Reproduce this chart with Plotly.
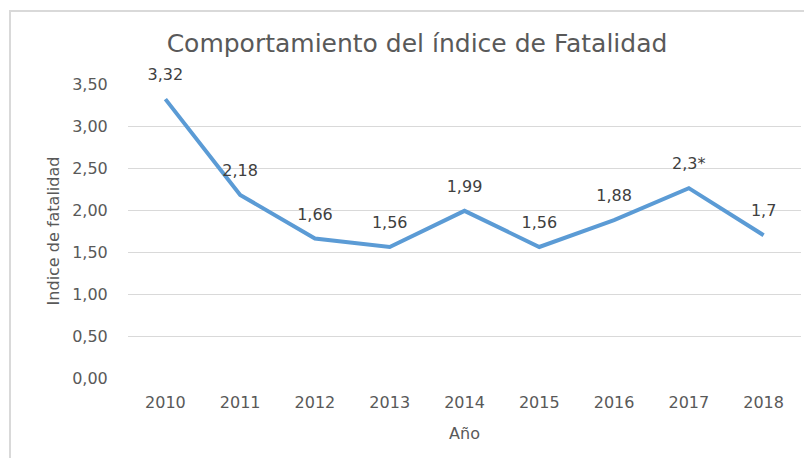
import plotly.graph_objects as go

years = ["2010", "2011", "2012", "2013", "2014", "2015", "2016", "2017", "2018"]
values = [3.32, 2.18, 1.66, 1.56, 1.99, 1.56, 1.88, 2.26, 1.70]
labels = ["3,32", "2,18", "1,66", "1,56", "1,99", "1,56", "1,88", "2,3*", "1,7"]
y_ticks = [0, 0.5, 1.0, 1.5, 2.0, 2.5, 3.0, 3.5]
y_tick_text = ["0,00", "0,50", "1,00", "1,50", "2,00", "2,50", "3,00", "3,50"]

FONT = "DejaVu Sans"
OFF = 8  # page body margin
W, H = 812 - OFF, 458 - OFF
L, T = 128 - OFF, 84 - OFF
R = W - (801 - OFF)
B = H - (378 - OFF)
PW, PH = W - L - R, H - T - B

fig = go.Figure()
fig.add_trace(go.Scatter(
    x=years, y=values, mode="lines",
    line=dict(color="#5B9BD5", width=4),
    hoverinfo="skip", showlegend=False,
))
fig.add_trace(go.Scatter(
    x=years, y=values, mode="markers+text", text=labels,
    textposition="top center",
    marker=dict(size=22, opacity=0),
    textfont=dict(family=FONT, size=16, color="#404040"),
    hoverinfo="skip", showlegend=False, cliponaxis=False,
))

fig.add_shape(type="rect", xref="paper", yref="paper",
              x0=(10 - OFF - L) / PW, x1=(830 - OFF - L) / PW,
              y0=-(B + 30) / PH, y1=1 + (T - (11 - OFF)) / PH,
              line=dict(color="#D9D9D9", width=2), fillcolor="rgba(0,0,0,0)", layer="below")

fig.update_layout(
    width=W, height=H,
    margin=dict(l=L, r=R, t=T, b=B, autoexpand=False),
    paper_bgcolor="white", plot_bgcolor="white",
    title=dict(text="Comportamiento del índice de Fatalidad", x=((161 + 673) / 2 - OFF) / W, xanchor="center",
               y=1 - (43 - OFF) / H, yanchor="middle", automargin=False,
               font=dict(family=FONT, size=25, color="#595959")),
    xaxis=dict(type="category", range=[-0.5, 8.5], showgrid=False, showline=False, automargin=False,
               ticks="outside", ticklen=10, tickcolor="rgba(0,0,0,0)",
               tickfont=dict(family=FONT, size=16, color="#595959"),
               title=dict(text="Año", font=dict(family=FONT, size=16, color="#595959"), standoff=16)),
    yaxis=dict(range=[0, 3.5], tickvals=y_ticks, ticktext=y_tick_text, automargin=False,
               showgrid=True, gridcolor="#D9D9D9", gridwidth=1, zeroline=False,
               ticks="outside", ticklen=16, tickcolor="rgba(0,0,0,0)",
               tickfont=dict(family=FONT, size=16, color="#595959"),
               title=dict(text="Indice de fatalidad", font=dict(family=FONT, size=16, color="#595959"), standoff=8)),
)

fig.write_html("out.html")
